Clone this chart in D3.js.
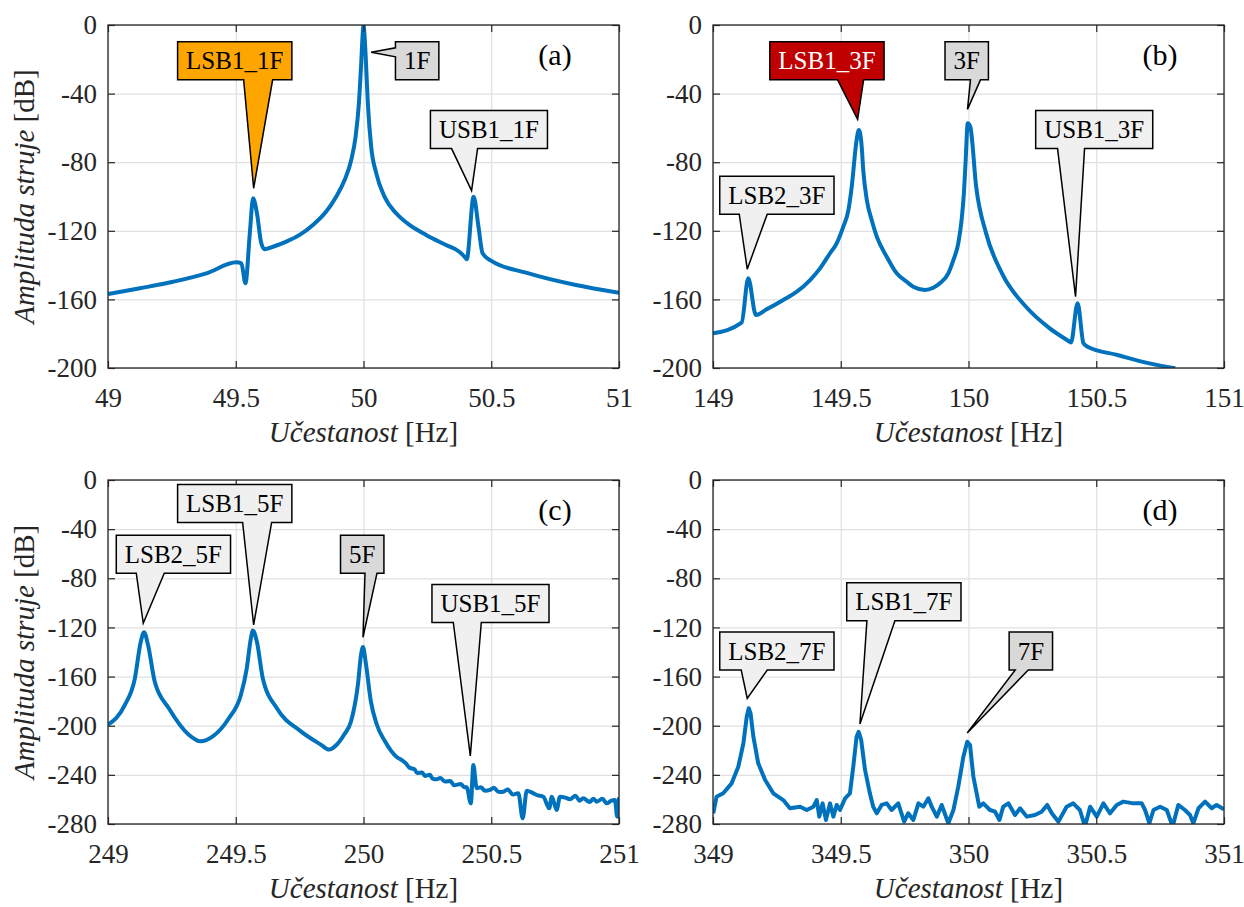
<!DOCTYPE html>
<html>
<head>
<meta charset="utf-8">
<script src="https://cdn.jsdelivr.net/npm/d3@7"></script>
<style>
  body { margin: 0; background: #fff; }
  svg text { font-family: 'Liberation Serif', 'Times New Roman', serif; }
</style>
</head>
<body>
<div id="chart"></div>
<script>
// ---- spectra [frequency Hz, amplitude dB] ----
const spectrum1F = [[49.000,-156.9],[49.125,-153.5],[49.255,-149.7],[49.385,-144.8],[49.503,-138.4],[49.522,-139.0],[49.538,-150.6],[49.555,-121.5],[49.568,-101.0],[49.583,-109.8],[49.600,-127.3],[49.613,-130.8],[49.646,-129.3],[49.698,-126.3],[49.750,-122.4],[49.802,-116.6],[49.854,-108.8],[49.893,-100.1],[49.926,-90.4],[49.952,-78.7],[49.969,-65.1],[49.982,-45.7],[49.991,-22.3],[49.997,-4.9],[50.000,0],[50.003,-4],[50.008,-16.5],[50.017,-45.7],[50.030,-71.0],[50.050,-86.5],[50.082,-100.1],[50.128,-109.8],[50.180,-116.6],[50.245,-122.4],[50.323,-128.3],[50.375,-132.2],[50.398,-135.5],[50.404,-136.6],[50.431,-100.1],[50.450,-117.6],[50.466,-133.1],[50.499,-137.4],[50.636,-144.4],[50.831,-151.6],[51.000,-156.1]];

const spectrum3F = [[149.000,-179.8],[149.112,-173.6],[149.138,-147.7],[149.168,-169.1],[149.210,-165.8],[149.275,-160.3],[149.328,-155.5],[149.380,-148.7],[149.419,-141.9],[149.458,-133.1],[149.484,-127.3],[149.510,-117.6],[149.530,-107.9],[149.543,-94.3],[149.562,-67.1],[149.571,-61.2],[149.582,-71.0],[149.588,-84.5],[149.602,-102.0],[149.621,-113.7],[149.641,-123.4],[149.680,-135.1],[149.719,-144.8],[149.758,-149.7],[149.784,-152.6],[149.830,-154.5],[149.862,-153.2],[149.888,-150.6],[149.921,-144.8],[149.941,-137.0],[149.960,-127.3],[149.973,-113.7],[149.982,-98.1],[149.989,-78.7],[149.997,-57.3],[150.007,-59.3],[150.030,-94.3],[150.069,-121.5],[150.131,-144.8],[150.225,-164.3],[150.318,-176.9],[150.396,-184.7],[150.401,-185.2],[150.427,-162.3],[150.450,-185.6],[150.466,-187.6],[150.583,-192.4],[150.708,-197.3],[150.809,-200.2]];

const spectrum5F = [[249.000,-199.2],[249.066,-183.1],[249.105,-161.6],[249.128,-131.9],[249.141,-123.9],[249.157,-134.6],[249.183,-164.2],[249.238,-185.8],[249.316,-207.3],[249.363,-212.7],[249.410,-208.7],[249.473,-193.9],[249.520,-175.0],[249.543,-153.5],[249.559,-129.2],[249.567,-122.5],[249.583,-131.9],[249.606,-161.6],[249.661,-185.8],[249.755,-204.6],[249.833,-215.4],[249.865,-219.4],[249.895,-215.5],[249.925,-207.0],[249.951,-196.6],[249.979,-165.0],[249.990,-142.7],[249.998,-136.0],[250.009,-149.0],[250.029,-180.4],[250.052,-199.0],[250.084,-212.7],[250.130,-225.5],[250.150,-228.0],[250.165,-230.5],[250.179,-234.0],[250.200,-235.5],[250.210,-238.5],[250.230,-238.0],[250.240,-241.0],[250.260,-240.0],[250.270,-243.0],[250.287,-243.6],[250.300,-242.5],[250.320,-245.5],[250.340,-245.0],[250.355,-248.5],[250.380,-247.5],[250.395,-250.0],[250.404,-250.1],[250.420,-263.2],[250.430,-232.0],[250.443,-250.9],[250.460,-250.0],[250.475,-253.0],[250.495,-252.3],[250.510,-250.5],[250.530,-254.0],[250.547,-253.7],[250.565,-252.0],[250.585,-256.0],[250.606,-255.0],[250.623,-275.4],[250.639,-252.9],[250.660,-254.5],[250.678,-256.4],[250.704,-257.8],[250.727,-267.2],[250.737,-257.8],[250.756,-268.6],[250.769,-257.8],[250.790,-258.5],[250.808,-259.9],[250.830,-257.0],[250.845,-261.0],[250.860,-259.1],[250.885,-262.0],[250.900,-259.5],[250.913,-261.8],[250.935,-259.5],[250.952,-263.2],[250.970,-261.0],[250.984,-260.5],[250.993,-274.0],[251.000,-258.3]];

const spectrum7F = [[349.001,-271.3],[349.014,-257.8],[349.040,-255.0],[349.073,-246.9],[349.099,-233.4],[349.119,-214.3],[349.132,-192.7],[349.140,-185.8],[349.147,-189.9],[349.158,-208.9],[349.177,-230.6],[349.204,-244.2],[349.236,-255.0],[349.275,-260.5],[349.301,-267.2],[349.341,-265.9],[349.367,-268.6],[349.393,-265.9],[349.406,-260.5],[349.416,-274.0],[349.429,-263.2],[349.442,-276.7],[349.458,-263.2],[349.471,-274.0],[349.484,-264.5],[349.497,-268.6],[349.517,-259.1],[349.536,-255.0],[349.549,-233.4],[349.562,-208.9],[349.570,-204.9],[349.580,-211.6],[349.595,-236.0],[349.614,-255.0],[349.627,-265.9],[349.641,-271.3],[349.660,-264.5],[349.680,-263.2],[349.699,-268.6],[349.725,-263.2],[349.748,-278.1],[349.764,-271.3],[349.784,-276.7],[349.804,-263.2],[349.823,-265.9],[349.843,-259.1],[349.856,-265.9],[349.876,-274.0],[349.895,-264.5],[349.921,-279.4],[349.941,-268.6],[349.960,-249.6],[349.980,-225.2],[349.995,-213.0],[350.006,-215.7],[350.019,-241.5],[350.032,-255.0],[350.042,-265.9],[350.058,-263.2],[350.084,-268.6],[350.104,-270.0],[350.121,-276.7],[350.136,-265.9],[350.156,-263.2],[350.182,-272.7],[350.202,-267.2],[350.228,-274.0],[350.260,-272.7],[350.286,-270.0],[350.308,-264.5],[350.326,-271.3],[350.352,-278.1],[350.384,-265.9],[350.410,-263.2],[350.436,-268.6],[350.456,-282.0],[350.476,-265.9],[350.502,-274.0],[350.528,-263.2],[350.554,-271.3],[350.580,-264.5],[350.606,-261.8],[350.645,-263.2],[350.678,-263.2],[350.691,-268.6],[350.708,-279.4],[350.724,-268.6],[350.750,-265.9],[350.776,-268.6],[350.799,-282.0],[350.821,-264.5],[350.847,-268.6],[350.867,-272.7],[350.880,-279.4],[350.900,-267.2],[350.926,-261.8],[350.952,-267.2],[350.971,-264.5],[351.000,-268.0]];

// ---- ticks ----
const xTicks1F = [49, 49.5, 50, 50.5, 51];
const xTicks3F = [149, 149.5, 150, 150.5, 151];
const xTicks5F = [249, 249.5, 250, 250.5, 251];
const xTicks7F = [349, 349.5, 350, 350.5, 351];
const yTicksTop = [0, -40, -80, -120, -160, -200];
const yTicksBottom = [0, -40, -80, -120, -160, -200, -240, -280];

// ---- callouts: tip = marked point, box = box centre (Hz, dB) ----
const callouts1F = [
  {label:'LSB1_1F', tip:[49.570,-95.2], box:[49.496,-20.9], kind:'orange'},
  {label:'1F',      tip:[50.030,-15.9], box:[50.210,-20.9], kind:'fund'},
  {label:'USB1_1F', tip:[50.423,-96.6], box:[50.491,-61.0], kind:'side'}
];
const callouts3F = [
  {label:'LSB2_3F', tip:[149.134,-142.4], box:[149.250,-99.2], kind:'side'},
  {label:'LSB1_3F', tip:[149.566,-55.0],  box:[149.446,-20.9], kind:'red'},
  {label:'3F',      tip:[149.996,-49.2],  box:[149.993,-20.9], kind:'fund'},
  {label:'USB1_3F', tip:[150.419,-158.4], box:[150.492,-61.0], kind:'side'}
];
const callouts5F = [
  {label:'LSB2_5F', tip:[249.138,-116.6], box:[249.256,-60.4],  kind:'side'},
  {label:'LSB1_5F', tip:[249.570,-118.0], box:[249.496,-19.1],  kind:'side'},
  {label:'5F',      tip:[249.998,-128.0], box:[249.995,-60.4],  kind:'fund'},
  {label:'USB1_5F', tip:[250.418,-224.6], box:[250.497,-100.5], kind:'side'}
];
const callouts7F = [
  {label:'LSB2_7F', tip:[349.134,-177.7], box:[349.250,-139.2], kind:'side'},
  {label:'LSB1_7F', tip:[349.575,-198.6], box:[349.747,-99.2],  kind:'side'},
  {label:'7F',      tip:[349.995,-205.9], box:[350.244,-139.2], kind:'fund'}
];

// pointer base on the box edge, px relative to tip x (or box top for 'left')
const pointerBase = {
  'LSB1_1F':[-10,19], '1F':[6,15], 'USB1_1F':[-20,6],
  'LSB2_3F':[-8,20], 'LSB1_3F':[-20,6], '3F':[3,13], 'USB1_3F':[-18,9],
  'LSB2_5F':[-7,21], 'LSB1_5F':[-11,18], '5F':[2,14], 'USB1_5F':[-17,11],
  'LSB2_7F':[-6,20], 'LSB1_7F':[7,35], '7F':[48,61]
};
const leftPointer = ['1F'];

const boxFill = {orange:'#ffa500', red:'#c00000', fund:'#d9d9d9', side:'#f0f0f0'};
const boxText = {orange:'#000', red:'#fff', fund:'#000', side:'#000'};

const panels = [
  {tag:'(a)', data:spectrum1F, xDomain:[49,51],   xTicks:xTicks1F, yDomain:[-200,0], yTicks:yTicksTop,    col:0, row:0, callouts:callouts1F},
  {tag:'(b)', data:spectrum3F, xDomain:[149,151], xTicks:xTicks3F, yDomain:[-200,0], yTicks:yTicksTop,    col:1, row:0, callouts:callouts3F},
  {tag:'(c)', data:spectrum5F, xDomain:[249,251], xTicks:xTicks5F, yDomain:[-280,0], yTicks:yTicksBottom, col:0, row:1, callouts:callouts5F},
  {tag:'(d)', data:spectrum7F, xDomain:[349,351], xTicks:xTicks7F, yDomain:[-280,0], yTicks:yTicksBottom, col:1, row:1, callouts:callouts7F}
];

// ---- layout ----
const W = 1244, H = 907;
const colLeft = [108, 713];
const rowTop = [25, 480];
const plotW = 511;
const plotH = [343, 344];
const tickFont = 27, titleFont = 29, calloutFont = 25, tagFont = 30;

const svg = d3.select('#chart').append('svg')
  .attr('width', W).attr('height', H)
  .attr('xmlns', d3.namespaces.svg);
const defs = svg.append('defs');

panels.forEach((p, i) => {
  const left = colLeft[p.col], top = rowTop[p.row], h = plotH[p.row];
  const x = d3.scaleLinear().domain(p.xDomain).range([0, plotW]);
  const y = d3.scaleLinear().domain(p.yDomain).range([h, 0]);

  const g = svg.append('g').attr('transform', `translate(${left},${top})`);

  // grid
  g.append('g').attr('class', 'grid')
    .call(d3.axisBottom(x).tickValues(p.xTicks).tickSize(h).tickFormat(''))
    .call(s => s.select('.domain').remove());
  g.append('g').attr('class', 'grid')
    .call(d3.axisLeft(y).tickValues(p.yTicks).tickSize(-plotW).tickFormat(''))
    .call(s => s.select('.domain').remove());
  g.selectAll('.grid line').attr('stroke', '#e0e0e0').attr('stroke-width', 1.2);

  // curve
  defs.append('clipPath').attr('id', 'clip' + i)
    .append('rect').attr('width', plotW).attr('height', h);
  const line = d3.line()
    .x(d => x(d[0])).y(d => y(d[1]))
    .curve(p.row === 1 && p.col === 1 ? d3.curveLinear : d3.curveMonotoneX);
  g.append('path')
    .attr('clip-path', `url(#clip${i})`)
    .attr('d', line(p.data))
    .attr('fill', 'none')
    .attr('stroke', '#0072bd')
    .attr('stroke-width', 4)
    .attr('stroke-linejoin', 'round');

  // axes: ticks inward on all four sides
  const tk = 7;
  const ax = g.append('g').attr('transform', `translate(0,${h})`)
    .call(d3.axisBottom(x).tickValues(p.xTicks).tickSize(-tk).tickPadding(20).tickFormat(d => String(d)));
  const ay = g.append('g')
    .call(d3.axisLeft(y).tickValues(p.yTicks).tickSize(-tk).tickPadding(11).tickFormat(d => String(d)));
  g.append('g').call(d3.axisTop(x).tickValues(p.xTicks).tickSize(-tk).tickFormat(''));
  g.append('g').attr('transform', `translate(${plotW},0)`)
    .call(d3.axisRight(y).tickValues(p.yTicks).tickSize(-tk).tickFormat(''));
  g.selectAll('.domain').remove();
  g.selectAll('.tick line').filter(function(){ return !this.closest('.grid'); })
    .attr('stroke', '#262626').attr('stroke-width', 1.2);
  [ax, ay].forEach(a => a.selectAll('text')
    .attr('font-size', tickFont).attr('fill', '#262626')
    .style('font-family', "'Liberation Serif', serif"));

  g.append('rect').attr('width', plotW).attr('height', h)
    .attr('fill', 'none').attr('stroke', '#262626').attr('stroke-width', 1.3);

  // titles
  const xt = g.append('text')
    .attr('x', plotW / 2).attr('y', h + 74)
    .attr('text-anchor', 'middle').attr('font-size', titleFont).attr('fill', '#262626');
  xt.append('tspan').attr('font-style', 'italic').text('Učestanost');
  xt.append('tspan').text(' [Hz]');
  if (p.col === 0) {
    const yt = g.append('text')
      .attr('transform', `translate(${34 - left},${h / 2}) rotate(-90)`)
      .attr('text-anchor', 'middle').attr('font-size', titleFont).attr('fill', '#262626');
    yt.append('tspan').attr('font-style', 'italic').text('Amplituda struje');
    yt.append('tspan').text(' [dB]');
  }

  // panel tag
  g.append('text')
    .attr('x', plotW - 64).attr('y', 40)
    .attr('text-anchor', 'middle').attr('font-size', tagFont).attr('fill', '#000')
    .text(p.tag);

  // callouts
  const boxH = 38, padX = 8.5;
  p.callouts.forEach(c => {
    const cg = g.append('g');
    const txt = cg.append('text')
      .attr('font-size', calloutFont).attr('text-anchor', 'middle')
      .attr('fill', boxText[c.kind]).text(c.label);
    const tw = txt.node().getComputedTextLength();
    const cx = x(c.box[0]), cy = y(c.box[1]);
    const x0 = cx - tw / 2 - padX, x1 = cx + tw / 2 + padX;
    const y0 = cy - boxH / 2, y1 = cy + boxH / 2;
    const tx = x(c.tip[0]), ty = y(c.tip[1]);
    const b = pointerBase[c.label];
    let d;
    if (leftPointer.includes(c.label)) {
      d = `M${x0},${y0}H${x1}V${y1}H${x0}V${y0 + b[1]}L${tx},${ty}L${x0},${y0 + b[0]}Z`;
    } else {
      d = `M${x0},${y0}H${x1}V${y1}H${tx + b[1]}L${tx},${ty}L${tx + b[0]},${y1}H${x0}Z`;
    }
    cg.insert('path', 'text')
      .attr('d', d)
      .attr('fill', boxFill[c.kind])
      .attr('stroke', '#000').attr('stroke-width', 1.5)
      .attr('stroke-linejoin', 'miter');
    txt.attr('x', cx).attr('y', cy + 8.5);
  });
});
</script>
</body>
</html>
